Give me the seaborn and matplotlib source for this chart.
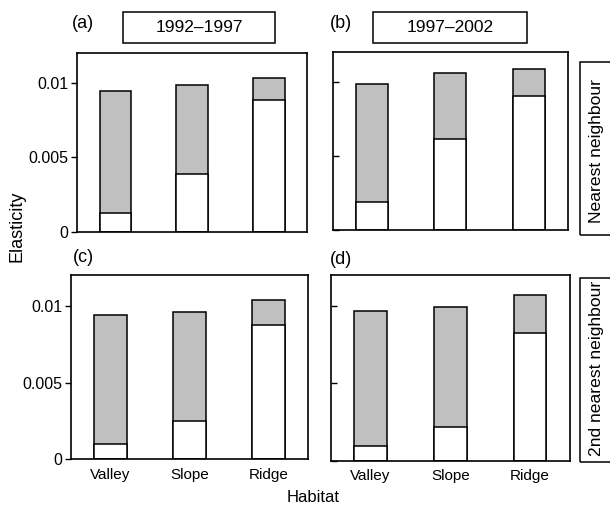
import matplotlib
matplotlib.use("Agg")
import matplotlib.pyplot as plt
from matplotlib.patches import Rectangle
import seaborn as sns
import pandas as pd

sns.set_style("white")
plt.rcParams["font.family"] = ["Liberation Sans", "DejaVu Sans"]
plt.rcParams["text.color"] = "black"
plt.rcParams["axes.labelcolor"] = "black"
plt.rcParams["xtick.color"] = "black"
plt.rcParams["ytick.color"] = "black"

habitats = ["Valley", "Slope", "Ridge"]
total_a = [0.00945, 0.00983, 0.01032]
white_a = [0.00125, 0.00390, 0.00883]
total_b = [0.00985, 0.01062, 0.01085]
white_b = [0.00186, 0.00615, 0.00908]
total_c = [0.00940, 0.00960, 0.01040]
white_c = [0.00098, 0.00248, 0.00877]
total_d = [0.00970, 0.00996, 0.01071]
white_d = [0.00095, 0.00220, 0.00827]
ytick_vals = [0, 0.005, 0.01]
ytick_labels = ["0", "0.005", "0.01"]
panel_labels = ["(a)", "(b)", "(c)", "(d)"]
period_labels = ["1992\u20131997", "1997\u20132002"]
row_labels = ["Nearest neighbour", "2nd nearest neighbour"]

W, H = 610, 505
fig = plt.figure(figsize=(W / 100, H / 100), dpi=100)


def fx(x):
    return x / W


def fy(y):
    return 1 - y / H


def axes_px(l, t, r, b):
    return [fx(l), fy(b), fx(r) - fx(l), fy(t) - fy(b)]


positions = [
    axes_px(77, 53, 307.3, 232),
    axes_px(333, 52.3, 567.7, 230),
    axes_px(70.7, 275, 308.3, 459.3),
    axes_px(330.7, 275, 570, 460.7),
]
totals = [total_a, total_b, total_c, total_d]
whites = [white_a, white_b, white_c, white_d]

for i in range(4):
    ax = fig.add_axes(positions[i])
    df = pd.DataFrame({"Habitat": habitats, "total": totals[i], "white": whites[i]})
    sns.barplot(data=df, x="Habitat", y="total", order=habitats, color="#c0c0c0",
                saturation=1, width=0.41, edgecolor="black", linewidth=1.1, ax=ax)
    sns.barplot(data=df, x="Habitat", y="white", order=habitats, color="white",
                saturation=1, width=0.41, edgecolor="black", linewidth=1.1, ax=ax)
    ax.set_xlim(-0.5, 2.5)
    ax.set_ylim(0, 0.012)
    ax.set_xlabel("")
    ax.set_ylabel("")
    for s in ax.spines.values():
        s.set_visible(True)
        s.set_color("black")
        s.set_linewidth(1.2)
    ax.set_yticks(ytick_vals)
    if i in (0, 2):
        ax.set_yticklabels(ytick_labels, fontsize=11.5)
        ax.tick_params(axis="y", direction="out", length=4, width=1, left=True, pad=2)
    else:
        ax.set_yticklabels([])
        ax.tick_params(axis="y", direction="in", length=4, width=1, left=True)
    if i >= 2:
        ax.tick_params(axis="x", length=0, pad=6, labelsize=11)
    else:
        ax.set_xticklabels([])
        ax.tick_params(axis="x", length=0)

# panel letters
letter_pos = [(72, 24), (330, 24), (73, 258), (330, 259)]
for lab, (x, y) in zip(panel_labels, letter_pos):
    fig.text(fx(x), fy(y), lab, fontsize=13, ha="left", va="center")

# top strips
for lab, (l, r) in zip(period_labels, [(123, 275), (373, 527)]):
    fig.add_artist(Rectangle((fx(l), fy(43)), fx(r) - fx(l), fy(12) - fy(43),
                             transform=fig.transFigure, fill=False,
                             edgecolor="black", linewidth=1.1))
    fig.text(fx((l + r) / 2), fy(27.5), lab, fontsize=12.5, ha="center", va="center")

# right strips
for lab, (t, b), yc in zip(row_labels, [(62, 235), (278, 462)], [151, 368]):
    fig.add_artist(Rectangle((fx(579.5), fy(b)), fx(640) - fx(579.5), fy(t) - fy(b),
                             transform=fig.transFigure, fill=False,
                             edgecolor="black", linewidth=1.1))
    fig.text(fx(597), fy(yc), lab, fontsize=12.6, rotation=90,
             ha="center", va="center")

fig.text(fx(17), fy(226), "Elasticity", fontsize=13, rotation=90, ha="center", va="center")
fig.text(fx(313), fy(497), "Habitat", fontsize=12, ha="center", va="center")

fig.savefig("out.png", dpi=100)
